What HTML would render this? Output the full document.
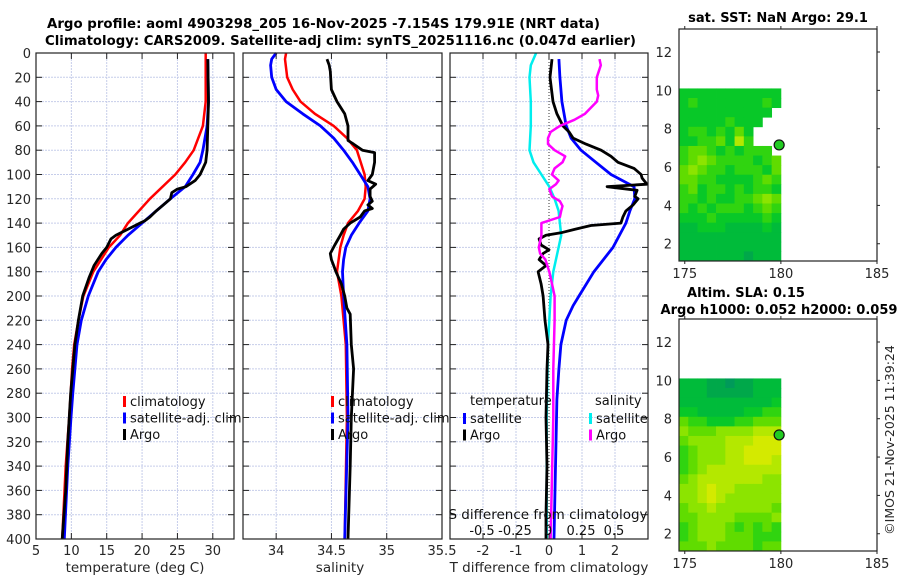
<!DOCTYPE html>
<html><head><meta charset="utf-8">
<style>
html,body{margin:0;padding:0;background:#fff;}
svg{display:block;font-family:"DejaVu Sans","Liberation Sans",sans-serif;}
</style></head>
<body>
<svg id="fig" width="900" height="580" viewBox="0 0 900 580" xmlns="http://www.w3.org/2000/svg">
<rect x="0" y="0" width="900" height="580" fill="#fff"/>
<g id="titles">
<text x="47" y="28" font-size="13" font-weight="bold" fill="#000" textLength="553" lengthAdjust="spacingAndGlyphs">Argo profile: aoml 4903298_205 16-Nov-2025 -7.154S 179.91E (NRT data)</text>
<text x="45" y="45" font-size="13" font-weight="bold" fill="#000" textLength="591" lengthAdjust="spacingAndGlyphs">Climatology: CARS2009. Satellite-adj clim: synTS_20251116.nc (0.047d earlier)</text>
<text x="778" y="22" font-size="13" font-weight="bold" text-anchor="middle">sat. SST: NaN Argo: 29.1</text>
<text x="746" y="297" font-size="13" font-weight="bold" text-anchor="middle">Altim. SLA: 0.15</text>
<text x="779" y="314" font-size="13" font-weight="bold" text-anchor="middle" textLength="237" lengthAdjust="spacingAndGlyphs">Argo h1000: 0.052 h2000: 0.059</text>
<text transform="translate(894,440) rotate(-90)" font-size="12.5" text-anchor="middle" fill="#262626">©IMOS 21-Nov-2025 11:39:24</text>
</g>
<g id="plots"></g>
</svg>
<script>
// ---------- data ----------
const tDepth   = [0,40,60,80,90,100,120,140,150,160,180,200,220,240,260,280,300,340,400];
const tClim    = [29.0,29.0,28.6,27.3,26.1,24.7,21.1,18.0,16.9,15.3,13.1,11.7,11.0,10.4,10.1,9.9,9.7,9.2,8.7];
const tSatDepth= [5,40,60,80,90,100,110,120,130,140,150,160,170,180,200,220,240,260,280,300,340,400];
const tSat     = [29.3,29.4,29.2,28.6,28.2,27.2,26.1,24.0,22.0,20.0,18.0,16.3,14.9,13.8,12.4,11.4,10.8,10.5,10.2,9.95,9.5,9.0];
const tArgoDepth=[5,40,80,90,100,105,110,112,115,120,125,130,135,138,140,145,150,153,160,165,175,185,200,220,240,280,320,360,400];
const tArgo    = [29.3,29.4,29.2,29.0,28.2,27.5,26.2,25.0,24.2,24.0,23.0,22.0,21.1,20.4,19.7,18.0,16.3,15.6,15.0,14.3,13.2,12.5,11.6,11.0,10.5,9.9,9.5,9.2,8.7];

const sClimDepth=[0,5,20,30,40,50,60,70,80,100,110,120,130,140,150,160,180,200,240,300,400];
const sClim    = [34.09,34.08,34.10,34.15,34.22,34.35,34.52,34.64,34.73,34.80,34.81,34.80,34.74,34.65,34.61,34.58,34.55,34.59,34.63,34.64,34.62];
const sSatDepth= [0,5,10,20,30,40,50,60,70,80,90,100,110,120,130,140,150,160,170,180,200,240,300,400];
const sSat     = [34.0,33.96,33.95,33.96,34.0,34.09,34.24,34.40,34.52,34.61,34.69,34.76,34.83,34.85,34.83,34.75,34.68,34.63,34.61,34.60,34.61,34.64,34.65,34.62];
const sArgoDepth=[5,10,15,30,40,50,60,72,75,80,82,90,100,105,108,112,118,122,125,128,130,135,140,145,150,158,165,170,175,180,190,200,210,215,240,260,300,340,400];
const sArgo    = [34.46,34.48,34.49,34.50,34.55,34.62,34.65,34.65,34.70,34.78,34.89,34.89,34.87,34.83,34.90,34.85,34.85,34.87,34.83,34.87,34.80,34.76,34.67,34.61,34.58,34.53,34.49,34.50,34.52,34.54,34.59,34.62,34.64,34.67,34.68,34.70,34.68,34.67,34.65];

const dTSatDepth=[5,20,40,60,70,80,90,100,110,120,130,140,160,180,200,208,220,240,260,285,400];
const dTSat    = [0.30,0.33,0.39,0.52,0.67,0.97,1.42,1.88,2.58,2.60,2.45,2.33,1.94,1.36,0.91,0.73,0.52,0.36,0.30,0.24,0.15];
const dTArgoDepth=[5,20,40,50,60,65,70,75,80,85,90,95,100,103,108,110,113,118,120,125,130,135,140,142,145,148,150,153,158,162,165,170,175,180,190,200,220,240,260,300,340,380,400];
const dTArgo   = [0.09,0.03,0.12,0.24,0.42,0.61,0.73,1.12,1.58,1.88,2.09,2.58,2.79,2.82,2.97,1.76,2.67,2.60,2.70,2.55,2.33,2.24,2.18,1.27,0.79,0.36,-0.09,-0.30,-0.24,0.0,-0.18,-0.30,-0.09,-0.33,-0.24,-0.18,-0.12,-0.03,-0.06,-0.09,-0.06,-0.09,-0.09];
const dSSatDepth=[0,10,20,40,60,80,90,100,110,120,130,140,150,160,180,200,240,300,400];
const dSSat    = [-0.09,-0.13,-0.14,-0.13,-0.13,-0.14,-0.11,-0.05,0.01,0.05,0.08,0.09,0.10,0.08,0.04,0.02,0.0,-0.01,-0.01];
const dSArgoDepth=[5,10,20,30,35,40,50,55,60,65,70,75,80,85,90,95,100,105,108,112,118,122,126,130,135,140,150,160,165,170,180,190,200,220,260,300,400];
const dSArgo   = [0.39,0.40,0.37,0.37,0.38,0.37,0.28,0.20,0.09,0.02,0.0,0.0,0.05,0.13,0.11,0.05,0.03,0.08,0.06,0.01,0.03,0.09,0.11,0.10,0.09,-0.05,-0.05,-0.07,-0.06,-0.02,0.01,0.03,0.05,0.05,0.04,0.04,0.02];

const depthTicks=[0,20,40,60,80,100,120,140,160,180,200,220,240,260,280,300,320,340,360,380,400];
const tTicks=[5,10,15,20,25,30];
const sTicks=[34,34.5,35,35.5];
const dTTicks=[-2,-1,0,1,2];
const dSTicks=[-0.5,-0.25,0,0.25,0.5];
const dSTickLabels=["-0.5","-0.25","0","0.25","0.5"];
const latTicks=[2,4,6,8,10,12];
const lonTicks=[175,180,185];

// heat maps: rows from north (10.1) to south (1.1), 11 columns of lon 174.7..180.0; '.' = NaN
const sstRows=["33333333333","34333333343","3333333333.","333334333..","34434353...","33445374...","4554343444.","45654444345","56544344435","55443333454","45344343443","44343344565","43434443454","33343333343","22333222232","22222222222","22222222222","22222221222"];
const slaRows=["22211011222","22211111222","22222222223","33222223344","54433344555","65556666777","56666777888","45666778888","45666778887","45677777777","56777777766","66787766666","66787666666","56676666665","55666655556","45666545454","45666555444","55565555455"];
const argoLon=179.91, argoLat=7.154;

// ---------- drawing ----------
const NS="http://www.w3.org/2000/svg";
const root=document.getElementById('plots');
function el(tag,attrs,parent){const e=document.createElementNS(NS,tag);for(const k in attrs)e.setAttribute(k,attrs[k]);(parent||root).appendChild(e);return e;}
function txt(str,attrs,parent){const e=el('text',attrs,parent);e.textContent=str;return e;}
const Y0=53, Y1=539;
const yD=d=>Y0+d*(Y1-Y0)/400;

function panel(name,x0,x1,vmin,vmax){
  const g=el('g',{});
  
  
  const sx=v=>x0+(v-vmin)*(x1-x0)/(vmax-vmin);
  return {g,sx,x0,x1};
}
function grid(p,xticks,zeroDotted){
  depthTicks.forEach(d=>{ if(d>0&&d<400){ const l=el('line',{x1:p.x0,x2:p.x1,y1:yD(d),y2:yD(d),stroke:'#c6cdea','stroke-width':1,'stroke-dasharray':'2,1'},p.g);
    
    }});
  xticks.forEach(v=>{const x=p.sx(v); if(x>p.x0+1&&x<p.x1-1){
    const isZero=zeroDotted&&v===0;
    const l=el('line',{x1:x,x2:x,y1:Y0,y2:Y1,stroke:isZero?'#333':'#c6cdea','stroke-width':1,'stroke-dasharray':isZero?'1,2':'2,1'},p.g);
    
    }});
}
function frame(p,xticks,labels,showY){
  const r=el('rect',{x:p.x0,y:Y0,width:p.x1-p.x0,height:Y1-Y0,fill:'none',stroke:'#222','stroke-width':1.2},p.g);
  
  
  depthTicks.forEach(d=>{const y=yD(d);
    el('line',{x1:p.x0,x2:p.x0+6,y1:y,y2:y,stroke:'#222'},p.g);
    el('line',{x1:p.x1-6,x2:p.x1,y1:y,y2:y,stroke:'#222'},p.g);
    if(showY){const t=txt(String(d),{x:p.x0-5,y:y+5,'font-size':13,'text-anchor':'end',fill:'#262626'},p.g);
      
      }
  });
  xticks.forEach((v,i)=>{const x=p.sx(v);
    el('line',{x1:x,x2:x,y1:Y1,y2:Y1-6,stroke:'#222'},p.g);
    el('line',{x1:x,x2:x,y1:Y0,y2:Y0+6,stroke:'#222'},p.g);
    if(labels){const t=txt(labels[i],{x:x,y:555,'font-size':13,'text-anchor':'middle',fill:'#262626'},p.g);
      
      }
  });
}
function line(p,depths,vals,color,w,name){
  const pts=depths.map((d,i)=>p.sx(vals[i]).toFixed(1)+','+yD(d).toFixed(1)).join(' ');
  const l=el('polyline',{points:pts,fill:'none',stroke:color,'stroke-width':w,'stroke-linejoin':'round'},p.g);
  
  
}
function legend(g,x,y,items){
  items.forEach((it,i)=>{
    const yy=y+i*16.5;
    el('rect',{x:x,y:yy-9,width:3,height:11,fill:it[1]},g);
    const t=txt(it[0],{x:x+7,y:yy+1,'font-size':13,fill:'#111'},g);
    
    
  });
}

// Panel 1: temperature
const p1=panel('temperature-panel',36,234,5,33);
grid(p1,tTicks,false);
line(p1,tDepth,tClim,'#ff0000',2.5,'temp-climatology-line');
line(p1,tSatDepth,tSat,'#0000ff',2.8,'temp-satellite-line');
line(p1,tArgoDepth,tArgo,'#000000',2.8,'temp-argo-line');
frame(p1,tTicks,tTicks.map(String),true);
txt('temperature (deg C)',{x:135,y:572,'font-size':13.5,'text-anchor':'middle',fill:'#262626'},p1.g);
legend(p1.g,123,405,[['climatology','#ff0000'],['satellite-adj. clim','#0000ff'],['Argo','#000']]);

// Panel 2: salinity
const p2=panel('salinity-panel',243,442,33.7,35.5);
grid(p2,sTicks,false);
line(p2,sClimDepth,sClim,'#ff0000',2.5,'sal-climatology-line');
line(p2,sSatDepth,sSat,'#0000ff',2.8,'sal-satellite-line');
line(p2,sArgoDepth,sArgo,'#000000',2.8,'sal-argo-line');
frame(p2,sTicks,sTicks.map(String),false);
txt('salinity',{x:340,y:572,'font-size':13.5,'text-anchor':'middle',fill:'#262626'},p2.g);
legend(p2.g,331,405,[['climatology','#ff0000'],['satellite-adj. clim','#0000ff'],['Argo','#000']]);

// Panel 3: differences
const p3=panel('difference-panel',450,648,-3,3);
grid(p3,dTTicks,true);
const p3s={g:p3.g,sx:v=>548+v*132,x0:450,x1:648};
line(p3s,dSSatDepth,dSSat,'#00eeee',2.5,'sdiff-satellite-line');
line(p3,dTSatDepth,dTSat,'#0000ff',2.8,'tdiff-satellite-line');
line(p3,dTArgoDepth,dTArgo,'#000000',2.8,'tdiff-argo-line');
line(p3s,dSArgoDepth,dSArgo,'#ff00ff',2.5,'sdiff-argo-line');
frame(p3,dTTicks,dTTicks.map(String),false);
txt('T difference from climatology',{x:549,y:572,'font-size':13.5,'text-anchor':'middle',fill:'#262626'},p3.g);
txt('S difference from climatology',{x:548,y:519,'font-size':13.5,'text-anchor':'middle',fill:'#111'},p3.g);
dSTicks.forEach((v,i)=>{const t=txt(dSTickLabels[i],{x:p3s.sx(v),y:535,'font-size':13,'text-anchor':'middle',fill:'#111'},p3.g);
  
  });
txt('temperature',{x:470,y:405,'font-size':13,fill:'#111'},p3.g);
txt('salinity',{x:595,y:405,'font-size':13,fill:'#111'},p3.g);
legend(p3.g,463,422,[['satellite','#0000ff'],['Argo','#000']]);
legend(p3.g,589,422,[['satellite','#00eeee'],['Argo','#ff00ff']]);

// Maps
const cmap=['#009a5a','#00a84a','#00bb3a','#08c828','#30d410','#60dc00','#8ce400','#b4e800','#d4ea00','#eeee00'];
function mapPanel(name,top,bottom,rows){
  const g=el('g',{});
  
  
  const L=679,R=877;
  const lonMin=174.7,lonMax=185.0;
  const latMax=13.2,latMin=1.1;
  const sx=v=>L+(v-lonMin)*(R-L)/(lonMax-lonMin);
  const sy=v=>bottom-(v-latMin)*(bottom-top)/(latMax-latMin);
  const ncol=rows[0].length, nrow=rows.length;
  const cw=(180.0-lonMin)/ncol, ch=(10.1-latMin)/nrow;
  rows.forEach((row,r)=>{for(let c=0;c<ncol;c++){const ch_=row[c]; if(ch_==='.')continue;
    const x=sx(lonMin+c*cw), y=sy(10.1-r*ch);
    const cell=el('rect',{x:x.toFixed(2),y:y.toFixed(2),width:(sx(lonMin+(c+1)*cw)-x+0.4).toFixed(2),height:(sy(10.1-(r+1)*ch)-y+0.4).toFixed(2),fill:cmap[+ch_]},g);
    
    }});
  const fr=el('rect',{x:L,y:top,width:R-L,height:bottom-top,fill:'none',stroke:'#222','stroke-width':1.2},g);
  
  
  latTicks.forEach(v=>{const y=sy(v);
    el('line',{x1:R,x2:R+3,y1:y,y2:y,stroke:'#222'},g);
    const t=txt(String(v),{x:L-7,y:y+5,'font-size':13,'text-anchor':'end',fill:'#262626'},g);
    
    });
  lonTicks.forEach(v=>{const x=sx(v);
    el('line',{x1:x,x2:x,y1:top,y2:top-3,stroke:'#222'},g);
    el('line',{x1:x,x2:x,y1:bottom,y2:bottom+3,stroke:'#222'},g);
    const t=txt(String(v),{x:x,y:bottom+17,'font-size':13,'text-anchor':'middle',fill:'#262626'},g);
    
    });
  const m=el('circle',{cx:sx(argoLon),cy:sy(argoLat),r:5,fill:'#22cc22',stroke:'#111','stroke-width':1.2},g);
  
  
}
mapPanel('sst-map',29,261,sstRows);
mapPanel('sla-map',319,551,slaRows);
</script>
</body></html>
